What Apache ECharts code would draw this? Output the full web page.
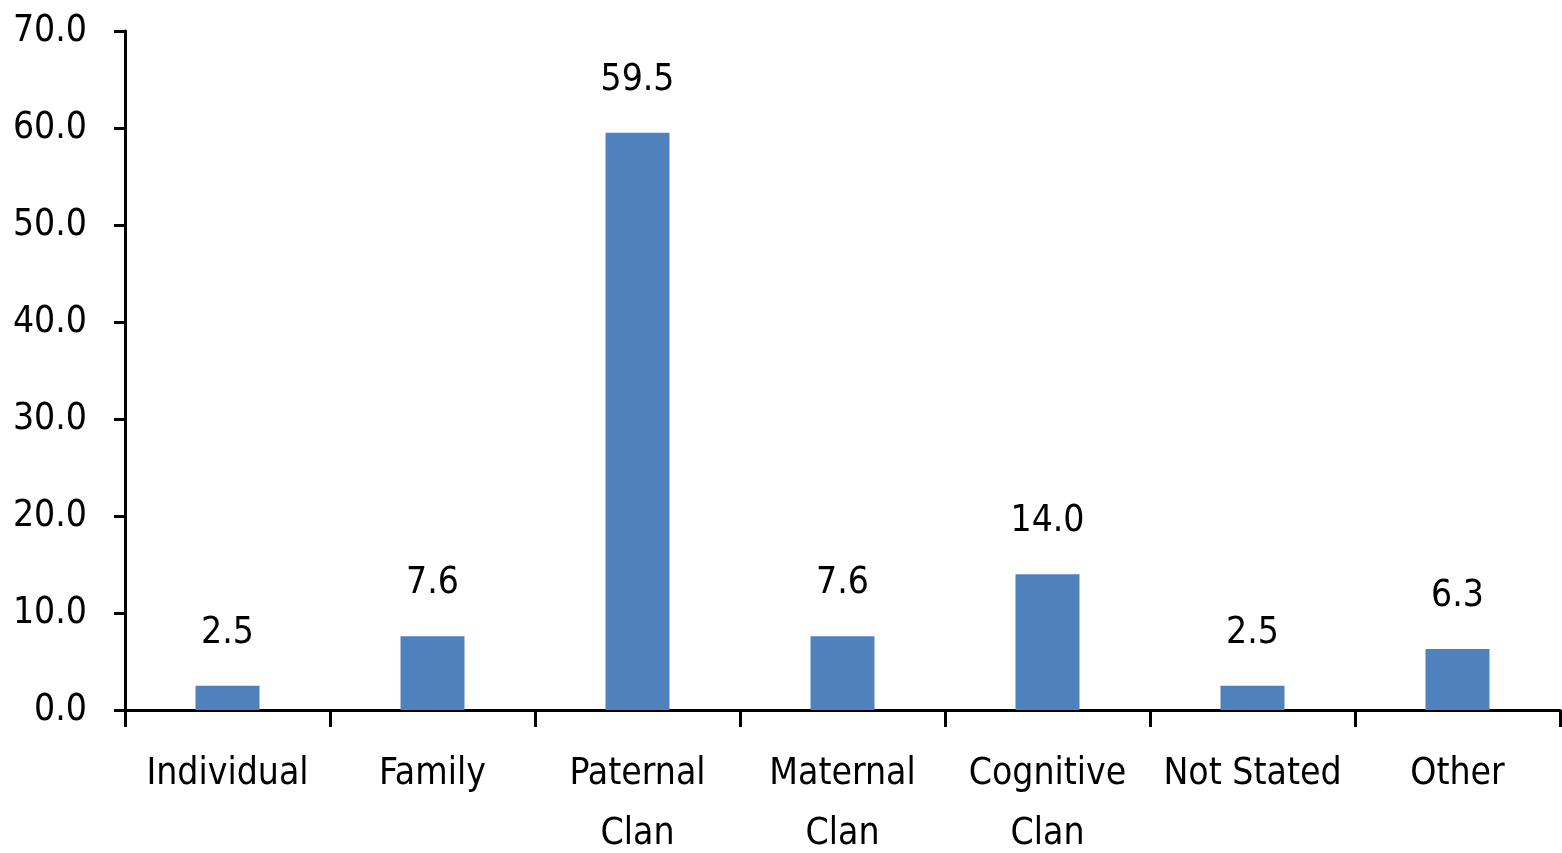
<!DOCTYPE html>
<html>
<head>
<meta charset="utf-8">
<script src="https://cdn.jsdelivr.net/npm/echarts@6/dist/echarts.min.js"></script>
<style>
  html, body { margin: 0; padding: 0; background: #fff; }
  #chart { width: 1562px; height: 853px; }
</style>
</head>
<body>
<div id="chart"></div>
<script>
const categories = ['Individual', 'Family', 'Paternal\nClan', 'Maternal\nClan', 'Cognitive\nClan', 'Not Stated', 'Other'];
const values = [2.5, 7.6, 59.5, 7.6, 14.0, 2.5, 6.3];

const font = '"Liberation Sans Narrow", "DejaVu Sans Condensed", sans-serif';
const chart = echarts.init(document.getElementById('chart'));
chart.setOption({
  animation: false,
  grid: { left: 125, right: 2, top: 31, bottom: 143, containLabel: false, outerBoundsMode: 'none' },
  xAxis: {
    type: 'category',
    data: categories,
    axisLine: { lineStyle: { color: '#000', width: 3 } },
    axisTick: { show: true, length: 17, lineStyle: { color: '#000', width: 3 }, alignWithLabel: false },
    axisLabel: { color: '#000', fontFamily: font, fontSize: 37, margin: 34, lineHeight: 60, interval: 0 }
  },
  yAxis: {
    type: 'value',
    min: 0, max: 70, interval: 10,
    axisLine: { show: true, lineStyle: { color: '#000', width: 3 } },
    axisTick: { show: true, length: 11, lineStyle: { color: '#000', width: 3 } },
    splitLine: { show: false },
    axisLabel: { color: '#000', fontFamily: font, fontSize: 37, margin: 38, formatter: v => v.toFixed(1) }
  },
  series: [{
    type: 'bar',
    data: values,
    barWidth: 64,
    itemStyle: { color: '#4F81BD' },
    label: {
      show: true, position: 'top', distance: 34, color: '#000',
      fontFamily: font, fontSize: 37,
      formatter: p => p.value.toFixed(1)
    }
  }]
});
</script>
</body>
</html>
